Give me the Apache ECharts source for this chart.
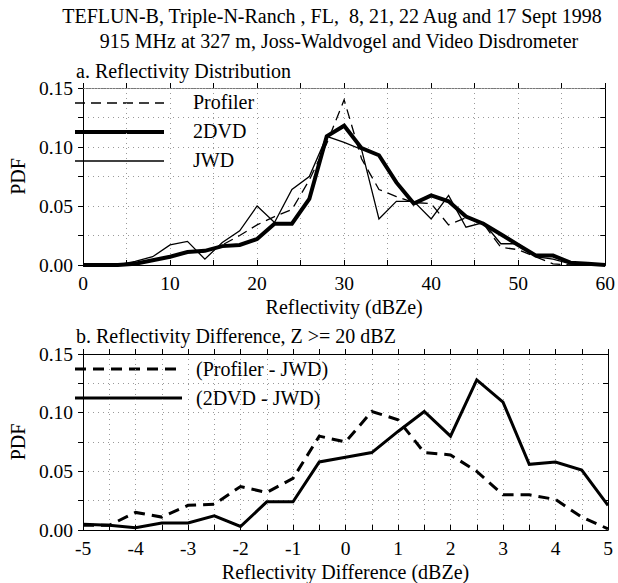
<!DOCTYPE html>
<html>
<head>
<meta charset="utf-8">
<script src="https://cdn.jsdelivr.net/npm/echarts@6/dist/echarts.min.js"></script>
<style>
    html, body { margin:0; padding:0; background:#fff; }
    #main { width:618px; height:583px; }
</style>
</head>
<body>
<div id="main"></div>
<script>
// a. reflectivity bins (dBZe)
var dbz = [0,2,4,6,8,10,12,14,16,18,20,22,24,26,28,30,32,34,36,38,40,42,44,46,48,50,52,54,56,58,60];
var profiler = [0,0,0,0.001,0.004,0.007,0.011,0.011,0.017,0.025,0.034,0.041,0.047,0.072,0.103,0.140,0.090,0.064,0.058,0.053,0.052,0.034,0.040,0.035,0.015,0.013,0.007,0.001,0,0,0];
var dvd = [0,0,0,0.001,0.004,0.007,0.011,0.012,0.016,0.017,0.022,0.035,0.035,0.056,0.109,0.118,0.099,0.093,0.070,0.052,0.059,0.054,0.041,0.035,0.026,0.017,0.008,0.008,0.002,0.001,0];
var jwd = [0,0,0,0.003,0.007,0.017,0.020,0.005,0.019,0.029,0.050,0.036,0.064,0.075,0.109,0.104,0.098,0.039,0.054,0.054,0.039,0.059,0.032,0.036,0.018,0.018,0.007,0.005,0.001,0,0];

// b. reflectivity difference bins (dBZe)
var diff = [-5,-4.5,-4,-3.5,-3,-2.5,-2,-1.5,-1,-0.5,0,0.5,1,1.5,2,2.5,3,3.5,4,4.5,5];
var profJwd = [0.004,0.004,0.015,0.011,0.021,0.022,0.037,0.032,0.044,0.080,0.075,0.101,0.094,0.066,0.064,0.050,0.030,0.030,0.026,0.011,0.001];
var dvdJwd = [0.005,0.004,0.002,0.006,0.006,0.012,0.003,0.024,0.024,0.058,0.062,0.066,0.084,0.101,0.080,0.128,0.109,0.056,0.058,0.051,0.021];

var yTicks = ['0.00','0.05','0.10','0.15'];

function pairs(xs, ys){
    var out = [];
    for (var i = 0; i < xs.length; i++) out.push([xs[i], ys[i]]);
    return out;
}

var font = 'Liberation Serif';
var txt = { fontFamily: font, fontSize: 20, color: '#000' };
var grid = { color: '#999', type: [1, 4], width: 1 };

function yLabel(v){
    var k = Math.round(v * 1000);
    if (k % 50 !== 0) return '';
    return yTicks[k / 50];
}

function xAxes(idx, min, max, step, fmt, name){
    return [{
        type: 'value', gridIndex: idx, position: 'bottom',
        min: min, max: max, interval: step,
        name: name, nameLocation: 'middle', nameGap: 32,
        nameTextStyle: txt,
        axisLine: { onZero: false, lineStyle: { color: '#000', width: 1 } },
        axisTick: { inside: true, length: 5, lineStyle: { color: '#000' } },
        axisLabel: { formatter: fmt, margin: 8, fontFamily: font, fontSize: 19.5, color: '#000', showMinLabel: true, showMaxLabel: true },
        splitLine: { show: true, lineStyle: grid }
    }, {
        type: 'value', gridIndex: idx, position: 'top',
        min: min, max: max, interval: step,
        axisLine: { onZero: false, lineStyle: { color: idx === 0 ? '#777' : '#000', width: 1, type: idx === 0 ? [2, 1] : 'solid' } },
        axisTick: { inside: false, length: 5, lineStyle: { color: '#000' } },
        axisLabel: { show: false },
        splitLine: { show: false }
    }];
}

function yAxes(idx){
    return [{
        type: 'value', gridIndex: idx, position: 'left',
        min: 0, max: 0.15, interval: 0.025,
        name: 'PDF', nameLocation: 'middle', nameGap: 51, nameRotate: 90,
        nameTextStyle: txt,
        axisLine: { onZero: false, lineStyle: { color: '#000', width: 1 } },
        axisTick: { inside: false, length: 5, lineStyle: { color: '#000' } },
        axisLabel: { formatter: yLabel, margin: 10, fontFamily: font, fontSize: 19.5, color: '#000' },
        splitLine: { show: true, lineStyle: grid }
    }, {
        type: 'value', gridIndex: idx, position: 'right',
        min: 0, max: 0.15, interval: 0.025,
        axisLine: { onZero: false, lineStyle: { color: '#000', width: 1 } },
        axisTick: { inside: true, length: 5, lineStyle: { color: '#000' } },
        axisLabel: { show: false },
        splitLine: { show: false }
    }];
}

function line(xi, yi, data, width, type){
    return {
        type: 'line', xAxisIndex: xi, yAxisIndex: yi, data: data,
        symbol: 'none', animation: false, silent: true,
        lineStyle: { color: '#000', width: width, type: type, cap: 'butt', join: 'miter' }
    };
}

// legend swatches drawn by hand, like the original plot
function legendLine(x1, x2, y, width, type){
    return { type: 'line', shape: { x1: x1, y1: y, x2: x2, y2: y },
        style: { stroke: '#000', lineWidth: width, lineDash: type } };
}
function plainText(x, y, s, align){
    return { type: 'text', x: x, y: y, style: { text: s, font: '20px "' + font + '"', fill: '#000', textAlign: align || 'left', textVerticalAlign: 'middle' } };
}

var chart = echarts.init(document.getElementById('main'), null, { renderer: 'svg' });

var option = {
    backgroundColor: '#fff',
    animation: false,
    grid: [
        { left: 75, top: 88, width: 533, height: 177 },
        { left: 75, top: 354, width: 533, height: 177 }
    ],
    xAxis: xAxes(0, 0, 60, 5, function(v){ return v % 10 === 0 ? String(v) : ''; }, 'Reflectivity (dBZe)')
        .concat(xAxes(1, -5, 5, 0.5, function(v){ return Math.round(v * 2) % 2 === 0 ? String(v) : ''; }, 'Reflectivity Difference (dBZe)')),
    yAxis: yAxes(0).concat(yAxes(1)),
    series: [
        line(0, 0, pairs(dbz, profiler), 1.3, [10, 6]),
        line(0, 0, pairs(dbz, dvd), 4, 'solid'),
        line(0, 0, pairs(dbz, jwd), 1.3, 'solid'),
        line(2, 2, pairs(diff, profJwd), 3, [11, 7]),
        line(2, 2, pairs(diff, dvdJwd), 3, 'solid')
    ],
    graphic: [
        plainText(332, 16, 'TEFLUN-B, Triple-N-Ranch , FL,  8, 21, 22 Aug and 17 Sept 1998', 'center'),
        plainText(339, 41, '915 MHz at 327 m, Joss-Waldvogel and Video Disdrometer', 'center'),
        plainText(76, 71, 'a. Reflectivity Distribution'),
        plainText(76, 336, 'b. Reflectivity Difference, Z >= 20 dBZ'),
        legendLine(75, 164, 103, 1.3, [10, 6]),
        legendLine(75, 164, 132, 4, null),
        legendLine(75, 164, 161, 1.3, null),
        plainText(193, 102, 'Profiler'),
        plainText(193, 131, '2DVD'),
        plainText(193, 160, 'JWD'),
        legendLine(75, 182, 369, 3, [11, 7]),
        legendLine(75, 182, 398, 3, null),
        plainText(196, 369, '(Profiler - JWD)'),
        plainText(196, 398, '(2DVD - JWD)')
    ]
};
chart.setOption(option);
</script>
</body>
</html>
